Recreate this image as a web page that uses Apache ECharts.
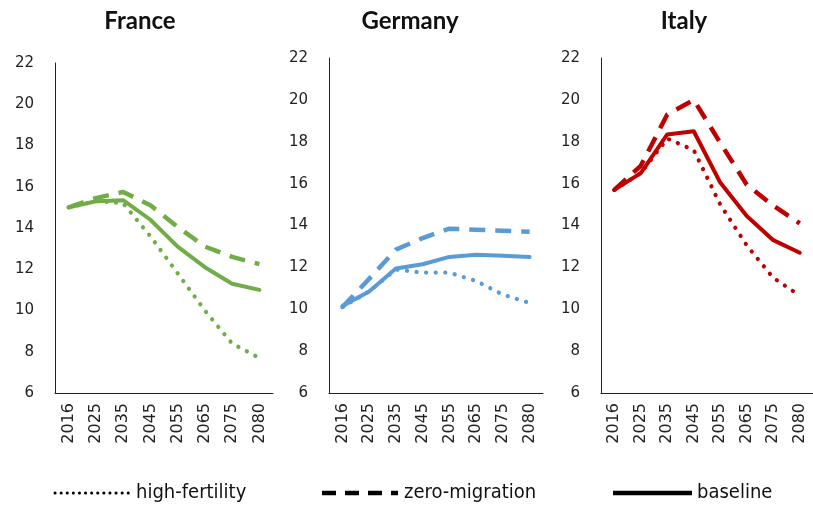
<!DOCTYPE html>
<html lang="en">
<head>
    <meta charset="utf-8">
    <title>Scenarios</title>
    <script src="https://cdn.jsdelivr.net/npm/echarts@6/dist/echarts.min.js"></script>
    <style>
        html, body { margin: 0; padding: 0; background: #fff; }
    </style>
</head>
<body>
    <div id="main" style="width:813px;height:508px;"></div>

    <script type="text/javascript">

    // categories and values
    var years = ['2016', '2025', '2035', '2045', '2055', '2065', '2075', '2080'];
    var countries = ['France', 'Germany', 'Italy'];
    var yTicks = [6, 22, 2]; // min, max, interval

    var franceBaseline = [15.0, 15.3, 15.35, 14.4, 13.1, 12.1, 11.3, 11.0];
    var franceZero     = [15.0, 15.45, 15.75, 15.1, 14.05, 13.1, 12.6, 12.25];
    var franceHigh     = [15.0, 15.3, 15.2, 13.6, 11.8, 10.0, 8.4, 7.7];

    var germanyBaseline = [10.15, 10.85, 11.95, 12.15, 12.5, 12.6, 12.55, 12.5];
    var germanyZero     = [10.1, 11.45, 12.85, 13.4, 13.85, 13.8, 13.75, 13.7];
    var germanyHigh     = [10.1, 10.85, 11.9, 11.75, 11.75, 11.35, 10.7, 10.3];

    var italyBaseline = [15.7, 16.5, 18.35, 18.5, 16.05, 14.45, 13.3, 12.7];
    var italyZero     = [15.7, 16.85, 19.3, 20.0, 17.95, 15.95, 14.95, 14.1];
    var italyHigh     = [15.7, 16.5, 18.15, 17.6, 15.0, 13.05, 11.5, 10.65];

    var scenarioNames = ['high-fertility', 'zero-migration', 'baseline'];

    var colors = ['#70AD47', '#5B9BD5', '#C00000'];
    var panelData = [
        [franceHigh, franceZero, franceBaseline],
        [germanyHigh, germanyZero, germanyBaseline],
        [italyHigh, italyZero, italyBaseline]
    ];

    var myChart = echarts.init(document.getElementById('main'));

    var tickFont = 'DejaVu Sans';
    var grids = [
        {left: 55, top: 63, width: 218, height: 330},
        {left: 329, top: 58, width: 214, height: 335},
        {left: 601, top: 58, width: 217, height: 335}
    ];

    var xAxes = [], yAxes = [], series = [];
    grids.forEach(function (g, i) {
        xAxes.push({
            type: 'category', gridIndex: i, data: years, boundaryGap: true,
            axisLine: {lineStyle: {color: '#222', width: 1}},
            axisTick: {show: false},
            axisLabel: {rotate: 90, margin: 10, color: '#222', fontSize: 16, fontFamily: tickFont}
        });
        yAxes.push({
            type: 'value', gridIndex: i, min: yTicks[0], max: yTicks[1], interval: yTicks[2],
            axisLine: {show: true, lineStyle: {color: '#222', width: 1}},
            axisTick: {show: false},
            splitLine: {show: false},
            axisLabel: {margin: 21, color: '#222', fontSize: 15, fontFamily: tickFont}
        });
        var styles = [
            {type: [0.1, 9.5], cap: 'round', width: 4.2},
            {type: [16, 10], cap: 'butt', width: 4.5},
            {type: 'solid', cap: 'round', width: 4}
        ];
        panelData[i].forEach(function (vals, k) {
            series.push({
                name: scenarioNames[k],
                type: 'line',
                xAxisIndex: i,
                yAxisIndex: i,
                data: vals,
                symbol: 'none',
                smooth: false,
                silent: true,
                z: 3 - k,
                lineStyle: {color: colors[i], width: styles[k].width, type: styles[k].type, cap: styles[k].cap, join: 'round'}
            });
        });
    });

    var titleX = [140, 410, 684];
    var graphics = countries.map(function (c, i) {
        return {
            type: 'text', x: titleX[i], y: 21,
            style: {text: c, fill: '#111', font: 'bold 24px Lato', textAlign: 'center', textVerticalAlign: 'middle'}
        };
    });

    // legend drawn by hand
    var legendY = 493;
    var legendItems = [
        {x1: 55, x2: 131, dash: [0.1, 6], width: 3, cap: 'round', textX: 136},
        {x1: 322, x2: 398, dash: [14, 9], width: 4.5, cap: 'butt', textX: 404},
        {x1: 613, x2: 692, dash: null, width: 4.5, cap: 'butt', textX: 697}
    ];
    legendItems.forEach(function (it, k) {
        graphics.push({
            type: 'line',
            shape: {x1: it.x1, y1: legendY, x2: it.x2, y2: legendY},
            style: {stroke: '#000', lineWidth: it.width, lineDash: it.dash, lineCap: it.cap}
        });
        graphics.push({
            type: 'text', x: it.textX, y: legendY,
            style: {text: scenarioNames[k], fill: '#111', font: '20px "Liberation Sans Narrow", "DejaVu Sans Condensed", sans-serif', textVerticalAlign: 'middle'}
        });
    });

    myChart.setOption({
        animation: false,
        grid: grids,
        xAxis: xAxes,
        yAxis: yAxes,
        series: series,
        graphic: graphics
    });

    </script>
</body>
</html>
